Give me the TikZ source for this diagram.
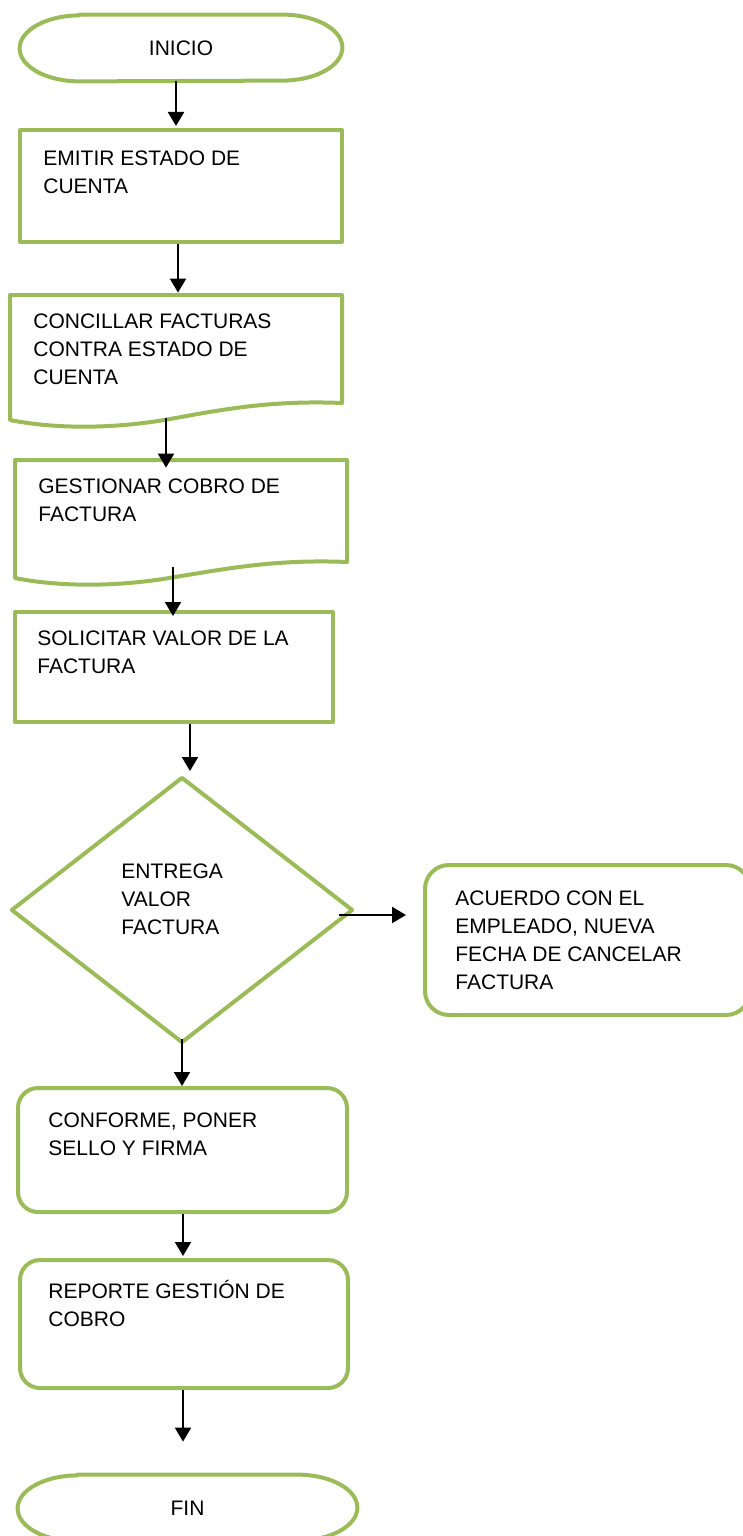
\documentclass[tikz,border=0pt]{standalone}
\usepackage{fontspec}
\setmainfont{Liberation Sans}
\usepackage{xcolor}
\usepackage{tikz}
\usetikzlibrary{arrows.meta,shapes.geometric}
\definecolor{verde}{HTML}{9BBB59}
\tikzstyle{caja}=[rectangle,draw=verde,line width=2pt,line join=round,inner sep=0pt]
\tikzstyle{cajaredonda}=[caja,rounded corners=10pt]
\tikzstyle{decision}=[diamond,draw=verde,line width=2pt,line join=round,inner sep=0pt]
\tikzstyle{hueco}=[rectangle,inner sep=0pt,font=\fontsize{10.5}{14}\selectfont]
\tikzstyle{borde}=[draw=verde,line width=2pt,line join=round]
\tikzstyle{texto}=[anchor=north west,inner sep=0pt,align=left,font=\fontsize{10.5}{14}\selectfont]
\tikzstyle{flecha}=[-{Triangle[length=7pt,width=8pt]},line width=1pt]

\begin{document}
\begin{tikzpicture}[x=0.5pt,y=-0.5pt]
        \clip (0,0) rectangle (743,1536);
        % shapes
        \node at (181,48) [hueco,minimum width=161pt,minimum height=33pt] (inicio) {INICIO};
        \node at (181,186) [caja,minimum width=161pt,minimum height=56pt] (emitir) {};
        \node at (176,357.5) [hueco,minimum width=166pt,minimum height=62.5pt] (concillar) {};
        \node at (181,519) [hueco,minimum width=166pt,minimum height=59pt] (gestionar) {};
        \node at (174,667) [caja,minimum width=159pt,minimum height=55pt] (solicitar) {};
        \node at (182,910) [decision,minimum width=171pt,minimum height=133pt] (entrega) {};
        \node at (587.5,940) [cajaredonda,rounded corners=12pt,minimum width=162.5pt,minimum height=75pt] (acuerdo) {};
        \node at (182.5,1150) [cajaredonda,minimum width=164.5pt,minimum height=62pt] (conforme) {};
        \node at (184,1324) [cajaredonda,minimum width=164pt,minimum height=64pt] (reporte) {};
        \node at (187.5,1508) [hueco,minimum width=169.5pt,minimum height=33pt] (fin) {FIN};
        % outlines
        \draw [borde] ([xshift=30pt]inicio.north west) -- ([xshift=-30pt]inicio.north east)
          arc [start angle=90,end angle=-90,x radius=30pt,y radius=16.5pt]
          -- ([xshift=30pt]inicio.south west)
          arc [start angle=270,end angle=90,x radius=30pt,y radius=16.5pt] -- cycle;
        \draw [borde] ([xshift=30pt]fin.north west) -- ([xshift=-30pt]fin.north east)
          arc [start angle=90,end angle=-90,x radius=30pt,y radius=16.5pt]
          -- ([xshift=30pt]fin.south west)
          arc [start angle=270,end angle=90,x radius=30pt,y radius=16.5pt] -- cycle;
        \draw [borde] (10,295) -- (342,295) -- (342,403)
          .. controls (270,400) and (220,410) .. (170,419)
          .. controls (120,428) and (60,430) .. (10,420) -- cycle;
        \draw [borde] (15,460) -- (347,460) -- (347,562)
          .. controls (275,559) and (225,569) .. (175,577)
          .. controls (125,586) and (65,588) .. (15,578) -- cycle;
        % texts
        \node at (43,150) [texto] (emitirtxt) {EMITIR ESTADO DE\\CUENTA};
        \node at (33,313) [texto] (concillartxt) {CONCILLAR FACTURAS\\CONTRA ESTADO DE\\CUENTA};
        \node at (38,478) [texto] (gestionartxt) {GESTIONAR COBRO DE\\FACTURA};
        \node at (37,630) [texto] (solicitartxt) {SOLICITAR VALOR DE LA\\FACTURA};
        \node at (121,863) [texto] (entregatxt) {ENTREGA\\VALOR\\FACTURA};
        \node at (455,890) [texto] (acuerdotxt) {ACUERDO CON EL\\EMPLEADO, NUEVA\\FECHA DE CANCELAR\\FACTURA};
        \node at (48,1112) [texto] (conformetxt) {CONFORME, PONER\\SELLO Y FIRMA};
        \node at (48,1280) [texto] (reportetxt) {REPORTE GESTIÓN DE\\COBRO};
        % arrows
        \draw [flecha] ([xshift=-2.5pt]inicio.south) -- ([xshift=-2.5pt,yshift=1pt]emitir.north);
        \draw [flecha] ([xshift=-1.5pt]emitir.south) -- ([xshift=1pt,yshift=1pt]concillar.north);
        \draw [flecha] ([xshift=-5pt,yshift=1pt]concillar.south) -- ([xshift=-7.5pt,yshift=-4pt]gestionar.north);
        \draw [flecha] ([xshift=-4pt,yshift=5.5pt]gestionar.south) -- ([xshift=-0.5pt,yshift=-3pt]solicitar.north);
        \draw [flecha] ([xshift=8pt]solicitar.south) -- ([xshift=4pt,yshift=2pt]entrega.north);
        \draw [flecha] ([yshift=3pt]entrega.south) -- ([xshift=-0.25pt]conforme.north);
        \draw [flecha] ([xshift=0.25pt]conforme.south) -- ([xshift=-0.5pt,yshift=1pt]reporte.north);
        \draw [flecha] ([xshift=-0.5pt]reporte.south) -- ([xshift=-2.25pt,yshift=16.5pt]fin.north);
        \draw [flecha] ([xshift=-8pt,yshift=-2.5pt]entrega.east) -- ([xshift=-8.5pt,yshift=12.5pt]acuerdo.west);
      \end{tikzpicture}
\end{document}
